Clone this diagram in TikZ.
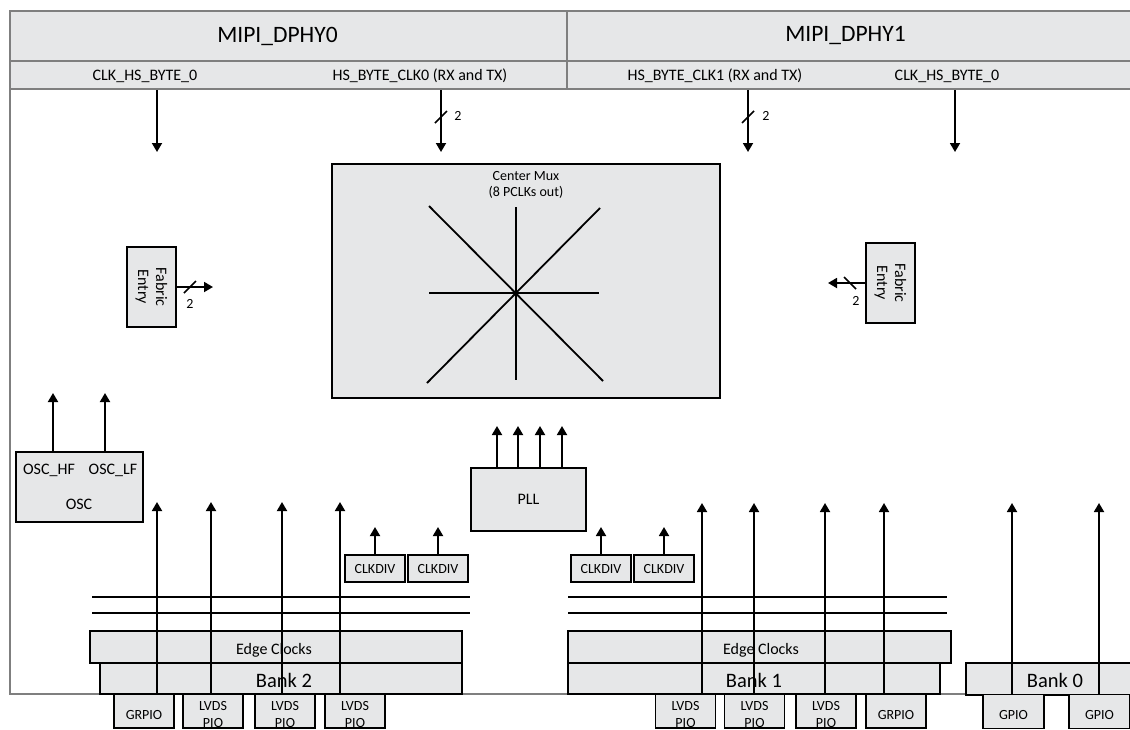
\documentclass[tikz,border=0pt]{standalone}
\usepackage{fontspec}
\setmainfont{Carlito}
\usetikzlibrary{arrows.meta,positioning}

\definecolor{boxgray}{HTML}{E6E7E8}
\definecolor{framegray}{HTML}{7F7F7F}

\tikzset{
  blk/.style={draw=black, line width=1.8pt, fill=boxgray, inner sep=0pt, align=center},
  hdr/.style={draw=framegray, line width=1.8pt, fill=boxgray, inner sep=0pt},
  sig/.style={-{Triangle[length=9pt,width=10pt]}, line width=1.8pt},
  wire/.style={line width=1.8pt},
  bus/.style={line width=1.6pt},
  txt/.style={inner sep=0pt, align=center},
  titlefont/.style={font=\fontsize{23.5}{27}\selectfont},
  sigfont/.style={font=\fontsize{16}{18}\selectfont},
  smallfont/.style={font=\fontsize{14}{16}\selectfont},
  bankfont/.style={font=\fontsize{20.5}{24}\selectfont},
  iofont/.style={font=\fontsize{14}{17}\selectfont},
}

\begin{document}
\begin{tikzpicture}[x=1pt, y=-1pt]
  \useasboundingbox (0,0) rectangle (1130,729);

  % outer frame
  \draw[framegray, line width=1.8pt] (10,11) -- (10,694) -- (1140,694);

  % mipi header
  \node[hdr, minimum width=557, minimum height=50] (dphy0) at (288.5,36) {};
  \node[hdr, minimum width=557, minimum height=28] (sub0) at (288.5,75) {};
  \node[hdr, minimum width=573, minimum height=50] (dphy1) at (853.5,36) {};
  \node[hdr, minimum width=573, minimum height=28] (sub1) at (853.5,75) {};
  \node[txt, titlefont] (dphy0t) at (277.5,36) {MIPI\_DPHY0};
  \node[txt, titlefont] (dphy1t) at (845.5,36) {MIPI\_DPHY1};
  \node[txt, sigfont] (hs0) at (145,76) {CLK\_HS\_BYTE\_0};
  \node[txt, sigfont] (bc0) at (420,76) {HS\_BYTE\_CLK0 (RX and TX)};
  \node[txt, sigfont] (bc1) at (715,76) {HS\_BYTE\_CLK1 (RX and TX)};
  \node[txt, sigfont] (hs1) at (947,76) {CLK\_HS\_BYTE\_0};

  % clocks down from mipi
  \foreach \x/\n in {157/a,441/b,748/c,955/d} {
    \coordinate (dn\n) at (\x,152);
    \draw[sig] (sub0.south -| dn\n) -- (dn\n);
  }
  \draw[bus] (441,117) +(-6,6) -- +(6,-6);
  \node[txt, smallfont] (wb) at (458,116) {2};
  \draw[bus] (748,117) +(-6,6) -- +(6,-6);
  \node[txt, smallfont] (wc) at (766,116) {2};

  % center mux
  \node[blk, minimum width=388, minimum height=234] (mux) at (526,281) {};
  \node[txt, smallfont, below=8pt of mux.north] (muxt) {Center Mux\\(8 PCLKs out)};
  \draw[wire] (429,206) -- (603,381);
  \draw[wire] (600,208) -- (427,383);
  \draw[wire] (429,293) -- (599,293);
  \draw[wire] (516,207) -- (516,380);

  % fabric entry left
  \node[blk, minimum width=49, minimum height=80] (fabL) at (151.5,287) {};
  \node[txt, sigfont, rotate=-90] (fabLt) at (fabL) {Fabric\\Entry};
  \coordinate (fabLo) at (213,287);
  \draw[sig] (fabL.east) -- (fabLo);
  \draw[bus] (190,287) +(-6,6) -- +(6,-6);
  \node[txt, smallfont] (wl) at (190,304) {2};

  % fabric entry right
  \node[blk, minimum width=49, minimum height=80] (fabR) at (890.5,283) {};
  \node[txt, sigfont, rotate=-90] (fabRt) at (fabR) {Fabric\\Entry};
  \coordinate (fabRo) at (828,283);
  \draw[sig] (fabR.west) -- (fabRo);
  \draw[bus] (850,283) +(-6,-6) -- +(6,6);
  \node[txt, smallfont] (wr) at (856,301) {2};

  % osc
  \node[blk, minimum width=127, minimum height=70] (osc) at (79.5,487) {};
  \node[txt, sigfont] (hf) at (49,470) {OSC\_HF};
  \node[txt, sigfont] (lf) at (113,470) {OSC\_LF};
  \node[txt, sigfont] (osct) at (79,504) {OSC};
  \coordinate (hfo) at (53,393);
  \coordinate (lfo) at (105,393);
  \draw[sig] (osc.north -| hfo) -- (hfo);
  \draw[sig] (osc.north -| lfo) -- (lfo);

  % pll
  \node[blk, sigfont, minimum width=115, minimum height=63] (pll) at (528.5,499.5) {PLL};
  \foreach \x in {497,518,540,562} {
    \coordinate (po\x) at (\x,426);
    \draw[sig] (pll.north -| po\x) -- (po\x);
  }

  % clock dividers
  \foreach \x/\n in {375/cda,438/cdb,601/cdc,664/cdd} {
    \node[blk, smallfont, minimum width=60, minimum height=27] (\n) at (\x,568.5) {CLKDIV};
    \coordinate (\n o) at (\x,527);
    \draw[sig] (\n.north) -- (\n o);
  }

  % edge clock lines
  \draw[wire] (92,597) -- (470,597);
  \draw[wire] (92,613) -- (470,613);
  \draw[wire] (568,597) -- (947,597);
  \draw[wire] (568,613) -- (947,613);

  % banks
  \node[blk, sigfont, minimum width=372, minimum height=32] (edgeL) at (276,647) {};
  \node[txt, sigfont] (edgeLt) at (274,650) {Edge Clocks};
  \node[blk, minimum width=362, minimum height=31] (bank2) at (281,678.5) {};
  \node[txt, bankfont] (bank2t) at (284,680) {Bank 2};
  \node[blk, minimum width=383, minimum height=32] (edgeR) at (759.5,647) {};
  \node[txt, sigfont] (edgeRt) at (761,650) {Edge Clocks};
  \node[blk, minimum width=372, minimum height=31] (bank1) at (754,678.5) {};
  \node[txt, bankfont] (bank1t) at (754,680) {Bank 1};
  \node[blk, minimum width=178, minimum height=32] (bank0) at (1055,679) {};
  \node[txt, bankfont] (bank0t) at (1055,680) {Bank 0};

  % io cells
  \node[blk, minimum width=60, minimum height=34] (io2a) at (144,711) {};
  \node[txt, iofont] (io2at) at (144,715) {GRPIO};
  \foreach \x/\n in {213/io2b,285/io2c,355/io2d,685.5/io1a,754.5/io1b,826/io1c} {
    \node[blk, minimum width=60, minimum height=34] (\n) at (\x,711) {};
    \node[txt, iofont] (\n t) at (\x,714.5) {LVDS\\PIO};
  }
  \node[blk, minimum width=60, minimum height=34] (io1d) at (896,711) {};
  \node[txt, iofont] (io1dt) at (896,715) {GRPIO};
  \node[blk, minimum width=61, minimum height=34] (io0a) at (1013.5,711.5) {};
  \node[txt, smallfont] (io0at) at (1013.5,715) {GPIO};
  \node[blk, minimum width=61, minimum height=34] (io0b) at (1099.5,711.5) {};
  \node[txt, smallfont] (io0bt) at (1099.5,715) {GPIO};

  % clocks up from banks
  \foreach \x [count=\i] in {157,211,282,340} {
    \coordinate (ua\i) at (\x,502);
    \draw[sig] (bank2.south -| ua\i) -- (ua\i);
  }
  \foreach \x [count=\i] in {702,754,825,884} {
    \coordinate (ub\i) at (\x,503);
    \draw[sig] (bank1.south -| ub\i) -- (ub\i);
  }
  \coordinate (uc1) at (1012,503);
  \coordinate (uc2) at (1099,503);
  \draw[sig] (io0a.north -| uc1) -- (uc1);
  \draw[sig] (io0b.north -| uc2) -- (uc2);
\end{tikzpicture}
\end{document}
